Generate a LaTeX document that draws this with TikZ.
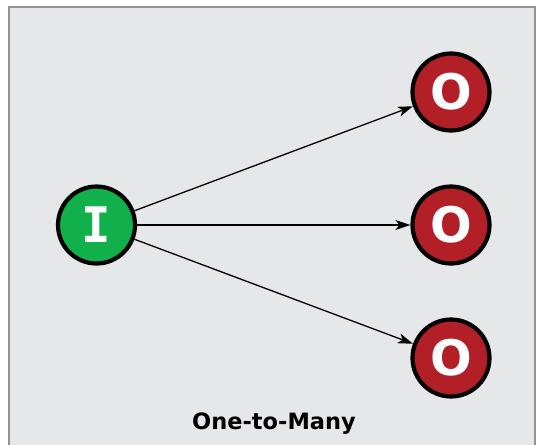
\documentclass[tikz,border=0pt]{standalone}
\usepackage{fontspec}
\setmainfont{DejaVu Sans}
\newfontfamily\slabfont{DejaVu Sans Mono}
\usetikzlibrary{arrows.meta}
\definecolor{panelgray}{HTML}{E6E7E9}
\definecolor{framegray}{HTML}{939395}
\definecolor{ingreen}{HTML}{11B04B}
\definecolor{outred}{HTML}{B21F26}
\tikzset{
  ionode/.style={circle,draw=black,line width=4.2pt,inner sep=0pt,minimum size=77pt,
    text=white,font=\fontsize{49}{49}\selectfont\bfseries},
  flow/.style={line width=1.3pt,-{Stealth[length=15pt,width=10pt,inset=4pt]}}
}

\begin{document}
\begin{tikzpicture}[x=1pt,y=-1pt]
  \useasboundingbox (0,0) rectangle (542,445);
  \draw[framegray,fill=panelgray,line width=2pt] (9,7) rectangle (535,460);
  \node[ionode,fill=ingreen] (in) at (96.5,225) {\slabfont\bfseries I};
  \foreach \i/\y in {1/92,2/225,3/358}{
    \node[ionode,fill=outred] (out\i) at (451,\y) {O};
    \draw[flow] (in) -- (out\i);
  }
  \node[font=\fontsize{22.5}{22.5}\selectfont\bfseries] (caption) at (274,424) {One-to-Many};
\end{tikzpicture}
\end{document}
